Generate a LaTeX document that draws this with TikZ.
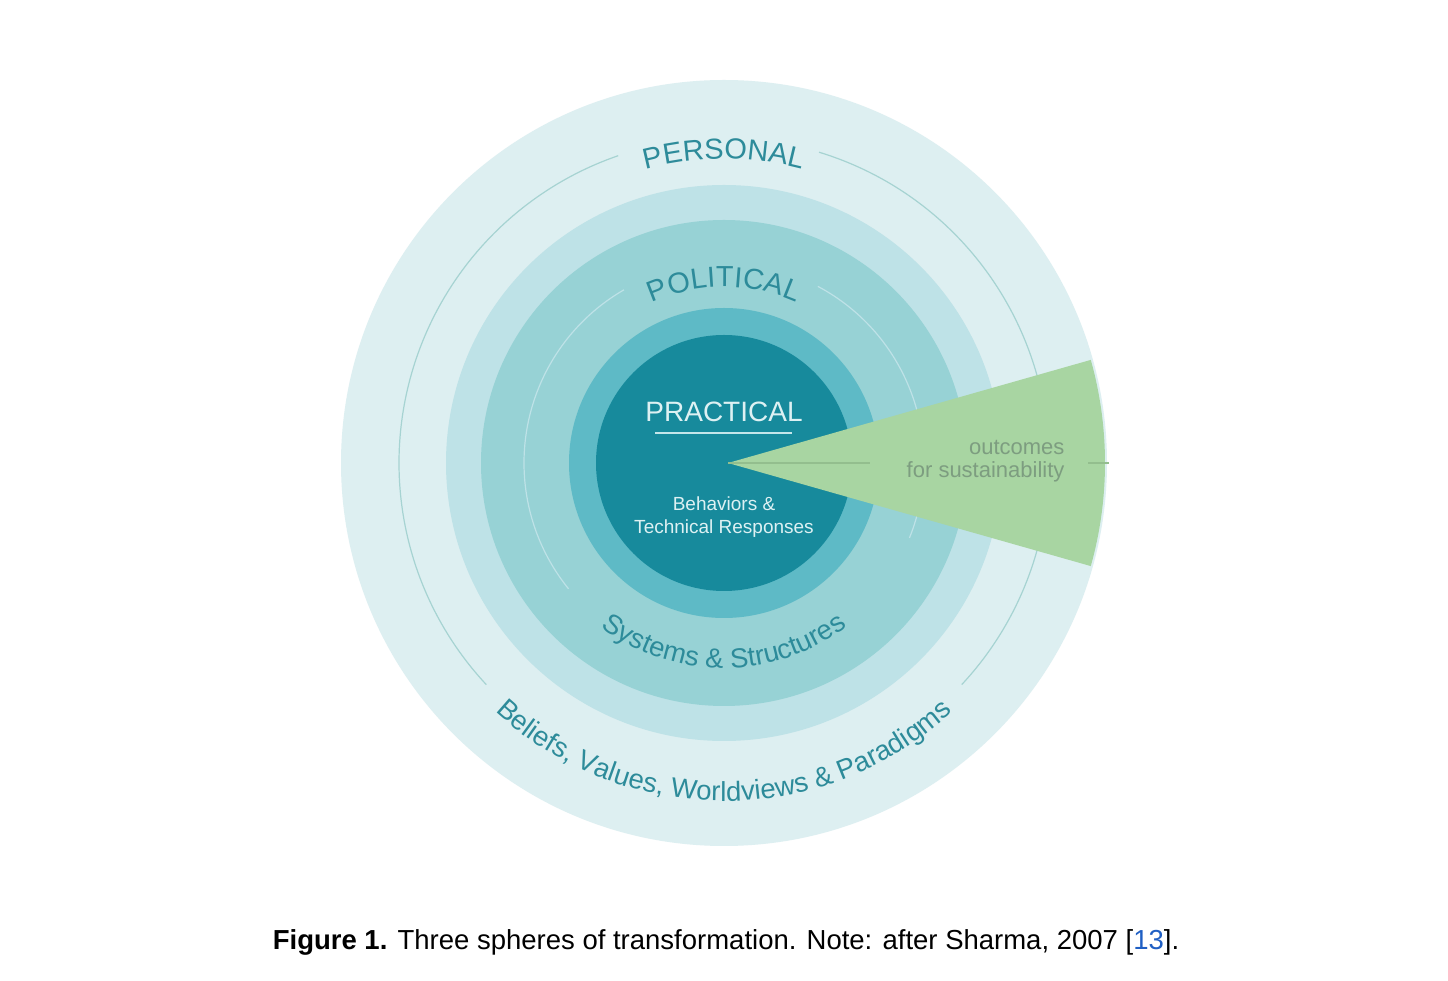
\documentclass[tikz,border=0pt]{standalone}
\usepackage{fontspec}
\setmainfont{Liberation Sans}
\usetikzlibrary{decorations.text}
\definecolor{ringA}{HTML}{DDEFF1}
\definecolor{ringB}{HTML}{BEE2E7}
\definecolor{ringC}{HTML}{97D2D5}
\definecolor{ringD}{HTML}{5EBAC6}
\definecolor{ringE}{HTML}{178A9C}
\definecolor{teal}{HTML}{2D8B9A}
\definecolor{thin}{HTML}{A6D3D2}
\definecolor{wedge}{HTML}{A8D5A2}
\definecolor{wedgetxt}{HTML}{7D9D80}
\definecolor{wline}{HTML}{93BE8E}
\definecolor{light}{HTML}{DDF1F3}
\definecolor{linkblue}{HTML}{1F5FC4}
\newcommand\rfont{\fontsize{29}{29}\selectfont}
\newcommand\sfontr{\fontsize{27.5}{27.5}\selectfont}
\tikzset{
  thinarc/.style={draw=thin, line width=1.2pt},
  ringtext/.style={decoration={text along path, text align=center, text color=teal, text={#1}}, decorate},
}
\begin{document}
\begin{tikzpicture}[x=1pt,y=1pt]
\useasboundingbox (0,0) rectangle (1448,980);
\fill[white] (0,0) rectangle (1448,980);
\begin{scope}[shift={(724,517)}]
  \fill[ringA] (0,0) circle[radius=383pt];
  \draw[thinarc] (73:325pt) arc[start angle=73,end angle=-43,radius=325pt];
  \draw[thinarc] (223:325pt) arc[start angle=223,end angle=109,radius=325pt];
  \fill[ringB] (0,0) circle[radius=278pt];
  \fill[ringC] (0,0) circle[radius=243pt];
  \draw[thinarc, draw=ringB] (62:200pt) arc[start angle=62,end angle=-22,radius=200pt];
  \draw[thinarc, draw=ringB] (219:200pt) arc[start angle=219,end angle=120,radius=200pt];
  \fill[ringD] (0,0) circle[radius=155pt];
  \fill[ringE] (0,0) circle[radius=128pt];
  \path[ringtext={|\rfont|PERSONAL}] (120:304pt) arc[start angle=120,end angle=60,radius=304pt];
  \path[ringtext={|\rfont|POLITICAL}] (135:176pt) arc[start angle=135,end angle=45,radius=176pt];
  \path[ringtext={|\sfontr|Systems {\&} Structures}] (205:205pt) arc[start angle=205,end angle=335,radius=205pt];
  \path[ringtext={|\sfontr|Beliefs, Values, Worldviews {\&} Paradigms}] (210:338pt) arc[start angle=210,end angle=330,radius=338pt];
  \fill[wedge] (4,0) -- (15.7:381pt) arc[start angle=15.7,end angle=-15.7,radius=381pt] -- cycle;
  \coordinate (apex) at (4,0);
  \coordinate (l1) at (146,0);
  \coordinate (l2) at (364,0);
  \coordinate (l3) at (385,0);
  \draw[wline, line width=1.2pt] (apex) -- (l1);
  \draw[wline, line width=1.2pt] (l2) -- (l3);
\end{scope}
\node[text=light, font=\fontsize{28}{28}\selectfont] (prac) at (724,568) {PRACTICAL};
\coordinate (u1) at (655,547);
\coordinate (u2) at (792,547);
\draw[draw=light!80!ringD, line width=2.5pt] (u1) -- (u2);
\node[text=light, font=\fontsize{19}{23}\selectfont, align=center] (beh) at (724,463) {Behaviors \&\\Technical Responses};
\node[text=wedgetxt, font=\fontsize{22}{23}\selectfont, align=right, anchor=east] (out) at (1068,519) {outcomes\\for sustainability};
\node[font=\fontsize{27.5}{27.5}\selectfont, text=black] (cap) at (726,38) {\textbf{Figure 1.} Three spheres of transformation. Note: after Sharma, 2007 [{\color{linkblue}13}].};
\end{tikzpicture}
\end{document}
